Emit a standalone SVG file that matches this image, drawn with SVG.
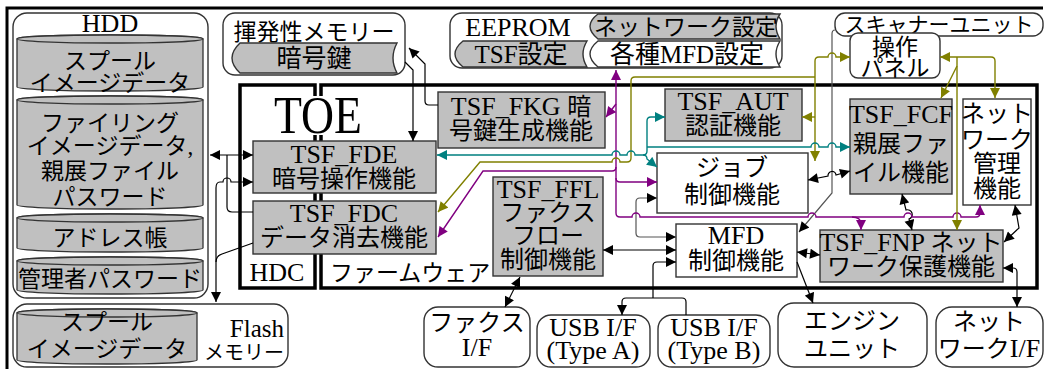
<svg xmlns="http://www.w3.org/2000/svg" width="1047" height="369" viewBox="0 0 1047 369">
<style>
.t{font-family:"Liberation Serif","Noto Sans CJK JP",serif;font-size:24px;text-anchor:middle;fill:#000}
.L{font-size:26px}
.j{font-size:23px}
.g{fill:#c0c0c0;stroke:#333;stroke-width:1.4}
.w{fill:#fff;stroke:#333;stroke-width:1.4}
.cy{fill:#c0c0c0;stroke:#333;stroke-width:1.3}
.k{fill:none;stroke:#000;stroke-width:1.2}
.dg{fill:none;stroke:#555;stroke-width:1.2}
.pu{fill:none;stroke:#800080;stroke-width:1.4}
.ol{fill:none;stroke:#808000;stroke-width:1.4}
.te{fill:none;stroke:#008080;stroke-width:1.4}
.fr{fill:none;stroke:#000;stroke-width:3.5}
</style>
<defs>
<marker id="ak" viewBox="0 0 10 10" refX="10" refY="5" markerWidth="11" markerHeight="10" markerUnits="userSpaceOnUse" orient="auto-start-reverse"><path d="M0,0 L10,5 L0,10 Z" fill="#000"/></marker>
<marker id="ap" viewBox="0 0 10 10" refX="10" refY="5" markerWidth="11" markerHeight="10" markerUnits="userSpaceOnUse" orient="auto-start-reverse"><path d="M0,0 L10,5 L0,10 Z" fill="#800080"/></marker>
<marker id="ao" viewBox="0 0 10 10" refX="10" refY="5" markerWidth="11" markerHeight="10" markerUnits="userSpaceOnUse" orient="auto-start-reverse"><path d="M0,0 L10,5 L0,10 Z" fill="#808000"/></marker>
<marker id="at" viewBox="0 0 10 10" refX="10" refY="5" markerWidth="11" markerHeight="10" markerUnits="userSpaceOnUse" orient="auto-start-reverse"><path d="M0,0 L10,5 L0,10 Z" fill="#008080"/></marker>
</defs>
<rect width="1047" height="369" fill="#fff"/>
<path d="M7,369 V8 H1043" fill="none" stroke="#000" stroke-width="3"/>

<g id="hdd">
<rect x="13" y="13" width="195" height="285" rx="14" class="w"/>
<text x="110" y="32" class="t L">HDD</text>
<path d="M17,39 A93,4 0 0 1 203,39 V87 A93,4 0 0 1 17,87 Z" class="cy"/><ellipse cx="110" cy="39" rx="93" ry="4" class="cy"/>
<text x="110" y="69" class="t j">スプール</text>
<text x="110" y="91" class="t j">イメージデータ</text>
<path d="M17,100 A93,4 0 0 1 203,100 V205 A93,4 0 0 1 17,205 Z" class="cy"/><ellipse cx="110" cy="100" rx="93" ry="4" class="cy"/>
<text x="110" y="131" class="t j">ファイリング</text>
<text x="110" y="154" class="t j">イメージデータ,</text>
<text x="110" y="179" class="t j">親展ファイル</text>
<text x="110" y="205" class="t j">パスワード</text>
<path d="M17,218 A93,4 0 0 1 203,218 V248 A93,4 0 0 1 17,248 Z" class="cy"/><ellipse cx="110" cy="218" rx="93" ry="4" class="cy"/>
<text x="110" y="246" class="t j">アドレス帳</text>
<path d="M17,261 A93,4 0 0 1 203,261 V290 A93,4 0 0 1 17,290 Z" class="cy"/><ellipse cx="110" cy="261" rx="93" ry="4" class="cy"/>
<text x="110" y="287" class="t j">管理者パスワード</text>
</g>

<g id="flash">
<rect x="13" y="304" width="275" height="63" rx="14" class="w"/>
<path d="M17,313 A90,4 0 0 1 197,313 V360 A90,4 0 0 1 17,360 Z" class="cy"/><ellipse cx="107" cy="313" rx="90" ry="4" class="cy"/>
<text x="107" y="330" class="t j">スプール</text>
<text x="107" y="357" class="t j">イメージデータ</text>
<text x="284" y="337" class="t" style="text-anchor:end;font-size:25px">Flash</text>
<text x="284" y="360" class="t" style="text-anchor:end;font-size:20px">メモリー</text>
</g>

<g id="volatile">
<rect x="223" y="13" width="182" height="62" rx="12" class="w"/>
<text x="314" y="40" class="t j">揮発性メモリー</text>
<path d="M240,43 H397 Q389,58 397,73 H240 Q224,58 240,43 Z" class="g"/>
<text x="314" y="67" class="t" style="font-size:25px">暗号鍵</text>
</g>

<g id="eeprom">
<rect x="450" y="13" width="332" height="55" rx="12" class="w"/>
<text x="518" y="36" class="t L">EEPROM</text>
<path d="M598,14 H780 Q772,26 780,39 H598 Q582,26 598,14 Z" class="g"/>
<text x="686" y="35" class="t j">ネットワーク設定</text>
<path d="M463,41 H587 Q579,54 587,67 H463 Q447,54 463,41 Z" class="g"/>
<text x="521" y="63" class="t" style="font-size:25px">TSF設定</text>
<path d="M598,41 H780 Q772,54 780,67 H598 Q582,54 598,41 Z" class="w"/>
<text x="687" y="63" class="t" style="font-size:25px">各種MFD設定</text>
</g>

<g id="scanner">
<rect x="835" y="13" width="208" height="23" rx="10" class="w"/>
<text x="939" y="32" class="t" style="font-size:21px">スキャナーユニット</text>
</g>
<g id="panel">
<rect x="850" y="33" width="90" height="45" rx="8" class="w"/>
<text x="895" y="55" class="t j">操作</text>
<text x="895" y="76" class="t j">パネル</text>
</g>

<g id="toe">
<rect x="240" y="85" width="75" height="203" class="fr"/>
<rect x="321" y="85" width="716" height="203" class="fr"/>
<rect x="292" y="96" width="50" height="39" fill="#fff"/>
<text x="318" y="133" class="t" style="font-size:52px" textLength="88" lengthAdjust="spacingAndGlyphs">TOE</text>
<text x="277" y="281" class="t L">HDC</text>
<text x="330" y="281" class="t j" style="text-anchor:start">ファームウェア</text>
</g>

<g id="fde"><rect x="253" y="141" width="183" height="52" class="g"/>
<text x="344" y="163" class="t L">TSF_FDE</text><text x="344" y="187" class="t">暗号操作機能</text></g>
<g id="fdc"><rect x="253" y="201" width="183" height="53" class="g"/>
<text x="344" y="222" class="t L">TSF_FDC</text><text x="344" y="246" class="t">データ消去機能</text></g>
<g id="fkg"><rect x="438" y="92" width="167" height="56" class="g"/>
<text x="521" y="115" class="t L">TSF_FKG <tspan style="font-size:24px">暗</tspan></text><text x="521" y="139" class="t">号鍵生成機能</text></g>
<g id="aut"><rect x="665" y="89" width="137" height="52" class="g"/>
<text x="733" y="110" class="t L">TSF_AUT</text><text x="733" y="134" class="t">認証機能</text></g>
<g id="fcf"><rect x="850" y="99" width="102" height="95" class="g"/>
<text x="901" y="123" class="t L">TSF_FCF</text><text x="901" y="152" class="t">親展ファ</text><text x="901" y="181" class="t">イル機能</text></g>
<g id="netmgmt"><rect x="963" y="99" width="68" height="106" class="w"/>
<text x="997" y="122" class="t">ネット</text><text x="997" y="148" class="t">ワーク</text><text x="997" y="172" class="t">管理</text><text x="997" y="197" class="t">機能</text></g>
<g id="job"><rect x="657" y="153" width="151" height="60" class="w"/>
<text x="732" y="176" class="t">ジョブ</text><text x="732" y="203" class="t">制御機能</text></g>
<g id="ffl"><rect x="493" y="177" width="110" height="99" class="g"/>
<text x="548" y="198" class="t L">TSF_FFL</text><text x="548" y="221" class="t">ファクス</text><text x="548" y="244" class="t">フロー</text><text x="548" y="268" class="t">制御機能</text></g>
<g id="mfd"><rect x="676" y="224" width="121" height="53" class="w"/>
<text x="736" y="244" class="t L">MFD</text><text x="736" y="269" class="t">制御機能</text></g>
<g id="fnp"><rect x="820" y="230" width="183" height="52" class="g"/>
<text x="911" y="251" class="t L">TSF_FNP <tspan style="font-size:24px">ネット</tspan></text><text x="911" y="275" class="t">ワーク保護機能</text></g>

<g id="faxif"><rect x="424" y="307" width="106" height="60" rx="14" class="w"/>
<text x="477" y="331" class="t">ファクス</text><text x="477" y="356" class="t L">I/F</text></g>
<g id="usba"><rect x="537" y="315" width="113" height="52" rx="14" class="w"/>
<text x="593" y="336" class="t L">USB I/F</text><text x="593" y="359" class="t L">(Type A)</text></g>
<g id="usbb"><rect x="658" y="315" width="112" height="52" rx="14" class="w"/>
<text x="714" y="336" class="t L">USB I/F</text><text x="714" y="359" class="t L">(Type B)</text></g>
<g id="engine"><rect x="778" y="303" width="149" height="64" rx="16" class="w"/>
<text x="852" y="329" class="t">エンジン</text><text x="852" y="357" class="t">ユニット</text></g>
<g id="netif"><rect x="936" y="307" width="107" height="60" rx="16" class="w"/>
<text x="989" y="330" class="t">ネット</text><text x="989" y="357" class="t">ワーク<tspan class="L">I/F</tspan></text></g>

<g id="connectors">
<path d="M210,155 H253" class="k" marker-start="url(#ak)" marker-end="url(#ak)"/>
<path d="M253,212 H232 Q227,212 227,207 V155" class="k"/>
<path d="M253,182 H231 A4,4 0 0 0 223,182 H220 Q216,182 216,188 V302" class="k" marker-start="url(#ak)" marker-end="url(#ak)"/>
<path d="M253,243 L222,254 Q216,256 216,262" class="k"/>
<path d="M405,62 L413,70 V141" class="k" marker-end="url(#ak)"/>
<path d="M438,105 H429 Q425,105 425,101 V64 L409,48" class="k" marker-end="url(#ak)"/>
<path d="M657,198 H640 Q636,198 636,202 V233 Q636,237 640,237 H676" class="dg" marker-start="url(#ak)" marker-end="url(#ak)"/>
<path d="M603,250 H676" class="k" marker-start="url(#ak)" marker-end="url(#ak)"/>
<path d="M676,262 H657 Q653,262 653,266 V298" class="k" marker-start="url(#ak)"/>
<path d="M622,315 V302 Q622,298 626,298 H682 Q686,298 686,302 V315" class="k" marker-start="url(#ak)"/>
<path d="M520,277 L505,307" class="k" marker-start="url(#ak)" marker-end="url(#ak)"/>
<path d="M835,30 Q832,30 832,34 V193 L799,232" class="dg" marker-end="url(#ak)"/>
<path d="M808,180 L828,176 A4,4 0 0 1 836,175 L850,171" class="k" marker-start="url(#ak)" marker-end="url(#ak)"/>
<path d="M797,252 L820,255" class="k" marker-start="url(#ak)" marker-end="url(#ak)"/>
<path d="M797,262 L813,303" class="k" marker-end="url(#ak)"/>
<path d="M902,194 L906,210 A4,4 0 0 1 909,219 L912,230" class="k" marker-start="url(#ak)" marker-end="url(#ak)"/>
<path d="M1015,205 L1019,228 L1004,242" class="k" marker-start="url(#ak)" marker-end="url(#ak)"/>
<path d="M1003,268 H1013 Q1017,268 1017,272 V307" class="k" marker-start="url(#ak)" marker-end="url(#ak)"/>
<path d="M616,70 V213 Q616,217 620,217 H632 A4,4 0 0 1 640,217 H808 A4,4 0 0 1 816,217 H904 A4,4 0 0 1 912,217 H953 A4,4 0 0 1 961,217 H976 Q980,217 980,213 V205" class="pu" marker-start="url(#ap)" marker-end="url(#ap)"/>
<path d="M852,217 Q861,217 861,224 V230" class="pu" marker-end="url(#ap)"/>
<path d="M616,104 L606,117" class="pu" marker-end="url(#ap)"/>
<path d="M616,178 Q616,182 620,182 H657" class="pu" marker-end="url(#ap)"/>
<path d="M616,167 Q616,171 612,171 H483 L438,237" class="pu" marker-end="url(#ap)"/>
<path d="M850,57 H836 A4,4 0 0 0 828,57 H819 Q815,57 815,61 V161" class="ol" marker-start="url(#ao)" marker-end="url(#ao)"/>
<path d="M815,117 H802" class="ol" marker-end="url(#ao)"/>
<path d="M815,77 H635 Q631,77 631,81 V158 Q631,162 627,162 H620 A4,4 0 0 0 612,162 H480 L438,212" class="ol" marker-end="url(#ao)"/>
<path d="M940,57 H991 Q995,57 995,61 V98" class="ol" marker-start="url(#ao)" marker-end="url(#ao)"/>
<path d="M957,57 V230" class="ol" marker-end="url(#ao)"/>
<path d="M957,66 L941,98" class="ol" marker-end="url(#ao)"/>
<path d="M437,155 H612 A4,4 0 0 1 620,155 H627 A4,4 0 0 1 635,155 H643 Q647,155 647,151 V121 Q647,117 651,117 H665" class="te" marker-start="url(#at)" marker-end="url(#at)"/>
<path d="M647,147 H811 A4,4 0 0 1 819,147 H828 A4,4 0 0 1 836,147 H850" class="te" marker-end="url(#at)"/>
<path d="M643,155 Q647,155 647,159 L657,167" class="te" marker-end="url(#at)"/>
</g>
</svg>
